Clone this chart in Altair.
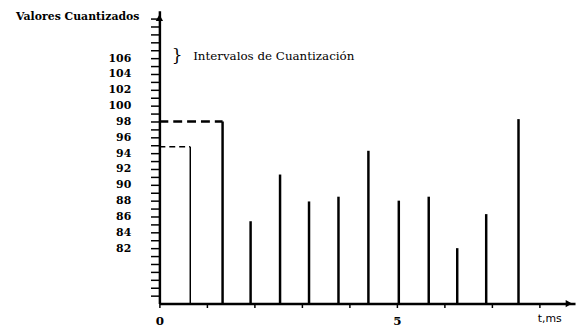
import altair as alt
import pandas as pd

# Sample instants (ms) and quantized values
t_ms = [0.65, 1.33, 1.92, 2.54, 3.15, 3.77, 4.40, 5.04, 5.67, 6.27, 6.88, 7.56]
valores = [94.8, 98.0, 85.4, 91.3, 87.9, 88.5, 94.3, 88.0, 88.5, 82.0, 86.3, 98.3]

y_ticks = list(range(76, 112))
x_ticks = [0, 1, 2, 3, 4, 5, 6, 7, 8]

BASE = 75
Y_MAX = 112
X_MAX = 8.75

FONT = "DejaVu Serif"

df = pd.DataFrame({"t": t_ms, "v": valores})
df["base"] = BASE

xs = alt.Scale(domain=[0, X_MAX], nice=False, zero=False)
ys = alt.Scale(domain=[BASE, Y_MAX], nice=False, zero=False)

x_axis = alt.Axis(
    values=x_ticks, tickCount=100, format="d",
    labelExpr="(datum.value == 0 || datum.value == 5) ? datum.label : ''",
    labelOverlap=False, labelFlush=False,
    title="t,ms", titleX=394, titleY=15, titleAlign="center", titleBaseline="middle",
    titleFont="DejaVu Sans", titleFontSize=11, titleFontWeight="normal", titleColor="black",
    labelFont=FONT, labelFontSize=12, labelFontWeight="bold", labelColor="black",
    tickSize=4, tickWidth=1.5, tickColor="black", labelPadding=8,
    domainColor="black", domainWidth=2.5, grid=False,
)
y_axis = alt.Axis(
    values=y_ticks, tickCount=100, format="d",
    labelExpr="(datum.value >= 82 && datum.value <= 106 && datum.value % 2 == 0) ? datum.label : ''",
    labelOverlap=False, labelFlush=False,
    title="Valores Cuantizados", titleAngle=0, titleX=-83, titleY=6,
    titleAlign="center", titleBaseline="middle",
    titleFont=FONT, titleFontSize=11, titleFontWeight="bold", titleColor="black",
    labelFont=FONT, labelFontSize=11, labelFontWeight="bold", labelColor="black",
    tickSize=9, tickWidth=1.5, tickColor="black", labelPadding=20,
    domainColor="black", domainWidth=2.5, grid=False,
)

bars = alt.Chart(df).mark_rule(color="black").encode(
    x=alt.X("t:Q", scale=xs, axis=x_axis),
    y=alt.Y("v:Q", scale=ys, axis=y_axis),
    y2="base:Q",
    strokeWidth=alt.condition("datum.t < 1", alt.value(1.5), alt.value(2.5)),
)

dash_df = df.iloc[:2].copy()
dash_df["x0"] = 0
dash_hi = alt.Chart(dash_df.iloc[[1]]).mark_rule(
    color="black", strokeWidth=2.5, strokeDash=[9, 5]
).encode(x=alt.X("x0:Q", scale=xs, axis=x_axis), x2="t:Q", y=alt.Y("v:Q", scale=ys, axis=y_axis))
dash_lo = alt.Chart(dash_df.iloc[[0]]).mark_rule(
    color="black", strokeWidth=1.5, strokeDash=[6, 4]
).encode(x=alt.X("x0:Q", scale=xs, axis=x_axis), x2="t:Q", y=alt.Y("v:Q", scale=ys, axis=y_axis))

arrow_df = pd.DataFrame({"x": [0, 8.62], "y": [111.1, BASE], "shape": ["triangle-up", "triangle-right"]})
arrows = alt.Chart(arrow_df).mark_point(filled=True, color="black", size=55, opacity=1).encode(
    x=alt.X("x:Q", scale=xs, axis=x_axis), y=alt.Y("y:Q", scale=ys, axis=y_axis),
    shape=alt.Shape("shape:N", scale=None),
)

legend_df = pd.DataFrame({"x": [0.37], "y": [106.3], "brace": ["}"],
                          "x2": [0.71], "label": ["Intervalos de Cuantización"]})
brace = alt.Chart(legend_df).mark_text(
    font=FONT, fontSize=17, align="center", baseline="middle", color="black"
).encode(x=alt.X("x:Q", scale=xs, axis=x_axis), y=alt.Y("y:Q", scale=ys, axis=y_axis), text="brace:N")
legend_txt = alt.Chart(legend_df).mark_text(
    font=FONT, fontSize=12, align="left", baseline="middle", color="black"
).encode(x=alt.X("x2:Q", scale=xs, axis=x_axis), y=alt.Y("y:Q", scale=ys, axis=y_axis), text="label:N")

chart = alt.layer(bars, dash_hi, dash_lo, arrows, brace, legend_txt).properties(
    width=420, height=296,
    autosize=alt.AutoSizeParams(type="none"),
    padding={"left": 153, "top": 1, "right": 2, "bottom": 23},
    background="white",
).configure_view(stroke=None)

chart.save("out.html", embed_options={"renderer": "svg", "actions": False})
